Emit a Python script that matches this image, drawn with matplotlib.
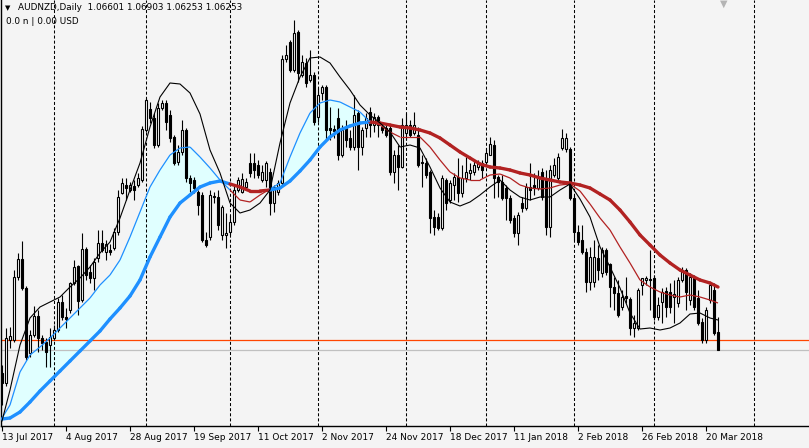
import numpy as np
import matplotlib
matplotlib.use('Agg')
import matplotlib.pyplot as plt
from matplotlib.collections import LineCollection

# AUDNZD daily candles, 13 Jul 2017 .. 23 Mar 2018 (one value per bar)
opens = [1.0579, 1.0559, 1.0645, 1.0645, 1.0771, 1.0807, 1.0749, 1.0619, 1.0655, 1.0693,
         1.0649, 1.0641, 1.0635, 1.0649, 1.0665, 1.0721, 1.0691, 1.0705, 1.0759, 1.0793,
         1.0725, 1.0827, 1.0781, 1.0769, 1.0809, 1.0839, 1.0821, 1.0825, 1.0829, 1.0861,
         1.0939, 1.0955, 1.0945, 1.0953, 1.0955, 1.0965, 1.1065, 1.1107, 1.1089, 1.1035,
         1.1109, 1.1119, 1.1095, 1.1051, 1.1001, 1.1021, 1.1065, 1.0969, 1.0965, 1.0941,
         1.0935, 1.0845, 1.0851, 1.0933, 1.0931, 1.0855, 1.0855, 1.0861, 1.0881, 1.0945,
         1.0941, 1.0951, 1.0999, 1.0999, 1.0995, 1.0965, 1.0965, 1.0981, 1.0919, 1.0941,
         1.0959, 1.1207, 1.1241, 1.1185, 1.1261, 1.1175, 1.1199, 1.1165, 1.1175, 1.1091,
         1.1139, 1.1151, 1.1069, 1.1067, 1.1089, 1.1015, 1.1071, 1.1049, 1.1031, 1.1099,
         1.1031, 1.1069, 1.1101, 1.1075, 1.1091, 1.1071, 1.1069, 1.1069, 1.0981, 1.1015,
         1.0991, 1.1059, 1.1075, 1.1059, 1.1055, 1.1001, 1.0999, 1.0981, 1.0891, 1.0891,
         1.0869, 1.0965, 1.0925, 1.0955, 1.0971, 1.0939, 1.0969, 1.0979, 1.0981, 1.0991,
         1.0999, 1.1001, 1.1015, 1.1035, 1.0971, 1.0961, 1.0949, 1.0929, 1.0889, 1.0859,
         1.0919, 1.0909, 1.0951, 1.0955, 1.0949, 1.0981, 1.0965, 1.0871, 1.0975, 1.0969,
         1.1029, 1.1027, 1.1027, 1.0929, 1.0861, 1.0845, 1.0821, 1.0761, 1.0761, 1.0809,
         1.0779, 1.0825, 1.0797, 1.0751, 1.0739, 1.0711, 1.0733, 1.0727, 1.0669, 1.0669,
         1.0755, 1.0765, 1.0767, 1.0769, 1.0691, 1.0721, 1.0743, 1.0741, 1.0731, 1.0719,
         1.0765, 1.0785, 1.0725, 1.0769, 1.0729, 1.0681, 1.0645, 1.0725, 1.0745, 1.06601]
highs = [1.0595, 1.0669, 1.0671, 1.0785, 1.0819, 1.0843, 1.0753, 1.0665, 1.0713, 1.0705,
         1.0655, 1.0649, 1.0669, 1.0675, 1.0729, 1.0735, 1.0709, 1.0761, 1.0805, 1.0795,
         1.0859, 1.0831, 1.0795, 1.0809, 1.0865, 1.0865, 1.0845, 1.0837, 1.0869, 1.0945,
         1.0969, 1.0969, 1.0961, 1.0965, 1.0979, 1.1073, 1.1129, 1.1121, 1.1099, 1.1119,
         1.1125, 1.1125, 1.1105, 1.1055, 1.1035, 1.1085, 1.1069, 1.0975, 1.0971, 1.0945,
         1.0941, 1.0861, 1.0945, 1.0941, 1.0945, 1.0915, 1.0899, 1.0895, 1.0955, 1.0971,
         1.0979, 1.0969, 1.1019, 1.1019, 1.1005, 1.0995, 1.1003, 1.0989, 1.0955, 1.0965,
         1.1215, 1.1235, 1.1245, 1.1285, 1.1265, 1.1215, 1.1209, 1.1225, 1.1181, 1.1149,
         1.1155, 1.1155, 1.1111, 1.1075, 1.1109, 1.1075, 1.1085, 1.1065, 1.1135, 1.1105,
         1.1071, 1.1099, 1.1111, 1.1099, 1.1095, 1.1081, 1.1079, 1.1075, 1.1025, 1.1035,
         1.1089, 1.1099, 1.1085, 1.1101, 1.1071, 1.1015, 1.1009, 1.0985, 1.0905, 1.0899,
         1.0975, 1.0969, 1.0965, 1.0979, 1.1009, 1.0995, 1.1011, 1.0999, 1.1005, 1.1005,
         1.1005, 1.1029, 1.1051, 1.1045, 1.0975, 1.0975, 1.0955, 1.0935, 1.0895, 1.0901,
         1.0931, 1.0959, 1.0999, 1.0979, 1.0985, 1.0989, 1.0985, 1.0995, 1.1009, 1.1019,
         1.1067, 1.1059, 1.1031, 1.0935, 1.0875, 1.0875, 1.0829, 1.0831, 1.0845, 1.0835,
         1.0831, 1.0829, 1.0799, 1.0771, 1.0765, 1.0745, 1.0771, 1.0731, 1.0695, 1.0749,
         1.0769, 1.0773, 1.0825, 1.0775, 1.0731, 1.0749, 1.0751, 1.0759, 1.0765, 1.0771,
         1.0791, 1.0789, 1.0779, 1.0775, 1.0745, 1.0689, 1.0711, 1.0761, 1.0759, 1.06903]
lows = [1.0515, 1.0553, 1.0629, 1.0641, 1.0765, 1.0745, 1.0605, 1.0611, 1.0651, 1.0621,
        1.0625, 1.0591, 1.0591, 1.0645, 1.0661, 1.0685, 1.0669, 1.0699, 1.0755, 1.0695,
        1.0721, 1.0765, 1.0759, 1.0745, 1.0801, 1.0821, 1.0805, 1.0815, 1.0825, 1.0855,
        1.0937, 1.0925, 1.0941, 1.0925, 1.0951, 1.0961, 1.1061, 1.1079, 1.1029, 1.1031,
        1.1105, 1.1065, 1.1041, 1.0995, 1.0995, 1.1015, 1.0961, 1.0941, 1.0939, 1.0895,
        1.0841, 1.0831, 1.0845, 1.0919, 1.0865, 1.0845, 1.0829, 1.0855, 1.0875, 1.0941,
        1.0939, 1.0945, 1.0971, 1.0969, 1.0969, 1.0961, 1.0951, 1.0895, 1.0901, 1.0935,
        1.0955, 1.1201, 1.1181, 1.1181, 1.1161, 1.1171, 1.1151, 1.1161, 1.1075, 1.1081,
        1.1125, 1.1045, 1.1045, 1.1049, 1.1005, 1.1011, 1.1031, 1.1025, 1.1025, 1.0985,
        1.1015, 1.1051, 1.1051, 1.1061, 1.1051, 1.1059, 1.1051, 1.0975, 1.0959, 1.0945,
        1.0989, 1.1045, 1.1051, 1.1055, 1.0991, 1.0951, 1.0969, 1.0859, 1.0855, 1.0865,
        1.0865, 1.0905, 1.0919, 1.0925, 1.0921, 1.0931, 1.0961, 1.0965, 1.0975, 1.0985,
        1.0969, 1.0995, 1.1015, 1.0929, 1.0931, 1.0925, 1.0885, 1.0879, 1.0851, 1.0835,
        1.0901, 1.0905, 1.0925, 1.0935, 1.0945, 1.0925, 1.0855, 1.0851, 1.0971, 1.0965,
        1.1025, 1.1021, 1.0925, 1.0845, 1.0835, 1.0817, 1.0741, 1.0745, 1.0751, 1.0765,
        1.0771, 1.0775, 1.0711, 1.0705, 1.0691, 1.0705, 1.0719, 1.0655, 1.0651, 1.0665,
        1.0735, 1.0755, 1.0705, 1.0685, 1.0685, 1.0679, 1.0691, 1.0699, 1.0679, 1.0711,
        1.0761, 1.0705, 1.0715, 1.0705, 1.0675, 1.0639, 1.0639, 1.0719, 1.0655, 1.06253]
closes = [1.0559, 1.0649, 1.0653, 1.0771, 1.0807, 1.0749, 1.0611, 1.0655, 1.0693, 1.0649,
          1.0639, 1.0621, 1.0651, 1.0665, 1.0721, 1.0691, 1.0687, 1.0759, 1.0791, 1.0723,
          1.0827, 1.0775, 1.0769, 1.0801, 1.0839, 1.0825, 1.0837, 1.0821, 1.0861, 1.0931,
          1.0959, 1.0949, 1.0955, 1.0945, 1.0969, 1.1067, 1.1125, 1.1089, 1.1035, 1.1109,
          1.1119, 1.1081, 1.1049, 1.0999, 1.1021, 1.1065, 1.0969, 1.0959, 1.0949, 1.0915,
          1.0845, 1.0835, 1.0935, 1.0931, 1.0875, 1.0911, 1.0859, 1.0881, 1.0945, 1.0965,
          1.0967, 1.0961, 1.0979, 1.0985, 1.0975, 1.0981, 1.0999, 1.0919, 1.0951, 1.0959,
          1.1207, 1.1215, 1.1185, 1.1259, 1.1179, 1.1201, 1.1159, 1.1175, 1.1081, 1.1135,
          1.1151, 1.1065, 1.1065, 1.1063, 1.1015, 1.1065, 1.1045, 1.1031, 1.1095, 1.1031,
          1.1065, 1.1089, 1.1075, 1.1091, 1.1075, 1.1065, 1.1055, 1.0981, 1.1015, 1.0991,
          1.1075, 1.1075, 1.1055, 1.1075, 1.0995, 1.0999, 1.0975, 1.0889, 1.0871, 1.0869,
          1.0969, 1.0919, 1.0959, 1.0971, 1.0939, 1.0969, 1.0981, 1.0985, 1.0995, 1.1001,
          1.0985, 1.1019, 1.1037, 1.0969, 1.0961, 1.0929, 1.0929, 1.0885, 1.0859, 1.0895,
          1.0909, 1.0951, 1.0945, 1.0949, 1.0969, 1.0931, 1.0871, 1.0985, 1.0995, 1.1011,
          1.1049, 1.1049, 1.0929, 1.0861, 1.0841, 1.0821, 1.0761, 1.0811, 1.0811, 1.0785,
          1.0825, 1.0781, 1.0751, 1.0739, 1.0695, 1.0731, 1.0729, 1.0669, 1.0679, 1.0745,
          1.0769, 1.0769, 1.0765, 1.0691, 1.0715, 1.0741, 1.0711, 1.0711, 1.0737, 1.0765,
          1.0785, 1.0741, 1.0771, 1.0711, 1.0679, 1.0645, 1.0705, 1.0755, 1.0659, 1.06253]

# indicator lines, read every 2.5 bars (first and last bar at the ends)
ma_bars = [0] + [(10 * k - 2) / 4 for k in range(1, 72)] + [179]
ma_black = [1.0483, 1.0545, 1.0635, 1.0689, 1.0711, 1.0721, 1.0731, 1.0751, 1.0769, 1.0791,
            1.0819, 1.0841, 1.0889, 1.0945, 1.0999, 1.1071, 1.1131, 1.1159, 1.1157, 1.1139,
            1.1097, 1.1025, 1.0979, 1.0919, 1.0899, 1.0905, 1.0919, 1.0945, 1.1039, 1.1119,
            1.1171, 1.1209, 1.1211, 1.1199, 1.1171, 1.1145, 1.1115, 1.1095, 1.1079, 1.1061,
            1.1031, 1.1035, 1.1029, 1.0991, 1.0949, 1.0921, 1.0913, 1.0921, 1.0935, 1.0951,
            1.0965, 1.0945, 1.0931, 1.0925, 1.0931, 1.0931, 1.0945, 1.0957, 1.0927, 1.0891,
            1.0831, 1.0791, 1.0749, 1.0699, 1.0667, 1.0669, 1.0665, 1.0669, 1.0679, 1.0697,
            1.0699, 1.0689, 1.0685]
ma_fast = [1.0489, 1.0515, 1.0581, 1.0615, 1.0631, 1.0649, 1.0669, 1.0689, 1.0709, 1.0729,
           1.0755, 1.0775, 1.0805, 1.0851, 1.0901, 1.0951, 1.0985, 1.1015, 1.1029, 1.1031,
           1.1011, 1.0989, 1.0965, 1.0945, 1.0925, 1.0921, 1.0935, 1.0947, 1.0959, 1.1011,
           1.1059, 1.1099, 1.1119, 1.1125, 1.1121, 1.1111, 1.1101, 1.1081, 1.1075, 1.1061,
           1.1051, 1.1051, 1.1051, 1.1031, 1.1005, 1.0981, 1.0969, 1.0965, 1.0965, 1.0975,
           1.0977, 1.0969, 1.0955, 1.0949, 1.0947, 1.0949, 1.0955, 1.0957, 1.0943, 1.0917,
           1.0889, 1.0865, 1.0831, 1.0799, 1.0765, 1.0751, 1.0741, 1.0735, 1.0731, 1.0735,
           1.0731, 1.0725, 1.0719]
ma_slow = [1.0487, 1.0489, 1.0501, 1.0521, 1.0543, 1.0563, 1.0583, 1.0603, 1.0623, 1.0643,
           1.0663, 1.0687, 1.0709, 1.0733, 1.0765, 1.0811, 1.0851, 1.0891, 1.0919, 1.0935,
           1.0951, 1.0959, 1.0963, 1.0957, 1.0951, 1.0943, 1.0943, 1.0945, 1.0949, 1.0963,
           1.0983, 1.1005, 1.1031, 1.1051, 1.1065, 1.1073, 1.1079, 1.1081, 1.1079, 1.1075,
           1.1071, 1.1069, 1.1065, 1.1059, 1.1049, 1.1035, 1.1021, 1.1009, 1.0997, 1.0991,
           1.0989, 1.0985, 1.0979, 1.0975, 1.0969, 1.0965, 1.0961, 1.0959, 1.0955, 1.0949,
           1.0937, 1.0925, 1.0905, 1.0881, 1.0855, 1.0835, 1.0815, 1.0799, 1.0785, 1.0775,
           1.0765, 1.0759, 1.0751]

tick_bars = list(range(0, 177, 16))
tick_labels = ['13 Jul 2017', '4 Aug 2017', '28 Aug 2017', '19 Sep 2017', '11 Oct 2017',
               '2 Nov 2017', '24 Nov 2017', '18 Dec 2017', '11 Jan 2018', '2 Feb 2018',
               '26 Feb 2018', '20 Mar 2018']
month_bars = [13, 36, 57, 79, 101, 121, 143, 163, 188]
level_price = 1.0645
bid_price = 1.06253

W, H = 809, 448
bg = '#f4f4f4'
fig = plt.figure(figsize=(W / 100, H / 100), dpi=100, facecolor=bg)
ax = fig.add_axes([1 / W, 22 / H, 808 / W, 426 / H])
ax.set_facecolor(bg)
ax.set_xlim(-0.25, 201.75)
ax.set_ylim(1.0473, 1.1325)

o = np.array(opens)
h = np.array(highs)
l = np.array(lows)
c = np.array(closes)
x = np.arange(len(o))

# trend ribbon fill
mx = np.array(ma_bars)
fast = np.array(ma_fast)
slow = np.array(ma_slow)
up_trend = fast > slow
ax.fill_between(mx, fast, slow, where=up_trend, interpolate=True,
                color='#e0ffff', lw=0, zorder=1)

# separators and horizontal lines
ax.vlines(month_bars, 1.0473, 1.1325, colors='black', lw=0.75,
          linestyles=(0, (2.9, 2.0)), zorder=2)
ax.axhline(level_price, color='#ff4500', lw=0.9, zorder=2)
ax.axhline(bid_price, color='#c0c0c0', lw=0.9, zorder=2)

# candles
ax.vlines(x, l, h, colors='black', lw=0.8, zorder=3)
bull = c >= o
ax.bar(x[bull], c[bull] - o[bull], bottom=o[bull], width=0.62,
       facecolor='white', edgecolor='black', linewidth=0.8, zorder=4)
ax.bar(x[~bull], o[~bull] - c[~bull], bottom=c[~bull], width=0.62,
       facecolor='black', edgecolor='black', linewidth=0.8, zorder=4)

# moving averages, blue while fast is above slow, red otherwise
seg_cols = np.where(up_trend[:-1], '#1e90ff', '#b22222')
fast_segs = [[(mx[i], fast[i]), (mx[i + 1], fast[i + 1])] for i in range(len(mx) - 1)]
slow_segs = [[(mx[i], slow[i]), (mx[i + 1], slow[i + 1])] for i in range(len(mx) - 1)]
ax.add_collection(LineCollection(slow_segs, colors=seg_cols, linewidths=2.4,
                                 capstyle='round', zorder=5))
ax.add_collection(LineCollection(fast_segs, colors=seg_cols, linewidths=0.9, zorder=6))
ax.plot(mx, ma_black, color='black', lw=0.8, zorder=6)

# axes styling
for side in ['top', 'right']:
    ax.spines[side].set_visible(False)
ax.spines['left'].set_linewidth(1.0)
ax.spines['bottom'].set_linewidth(1.0)
ax.set_yticks([])
ax.set_xticks(tick_bars)
ax.set_xticklabels(tick_labels, ha='left', fontsize=6.5)
ax.tick_params(axis='x', length=3.6, width=0.8, pad=1.5, colors='black')

# header texts
fig.text(5 / W, 1 - 8 / H, '\u25bc', fontsize=5, va='center', ha='left')
fig.text(18 / W, 1 - 8 / H, 'AUDNZD,Daily  1.06601 1.06903 1.06253 1.06253',
         fontsize=6.4, va='center', ha='left')
fig.text(6 / W, 1 - 21 / H, '0.0 n | 0.00 USD', fontsize=6.4, va='center', ha='left')
fig.text(724 / W, 1 - 4 / H, '\u25bc', fontsize=7, color='#b4b4b4',
         va='center', ha='center')

fig.savefig('out.png', dpi=100, facecolor=bg)
